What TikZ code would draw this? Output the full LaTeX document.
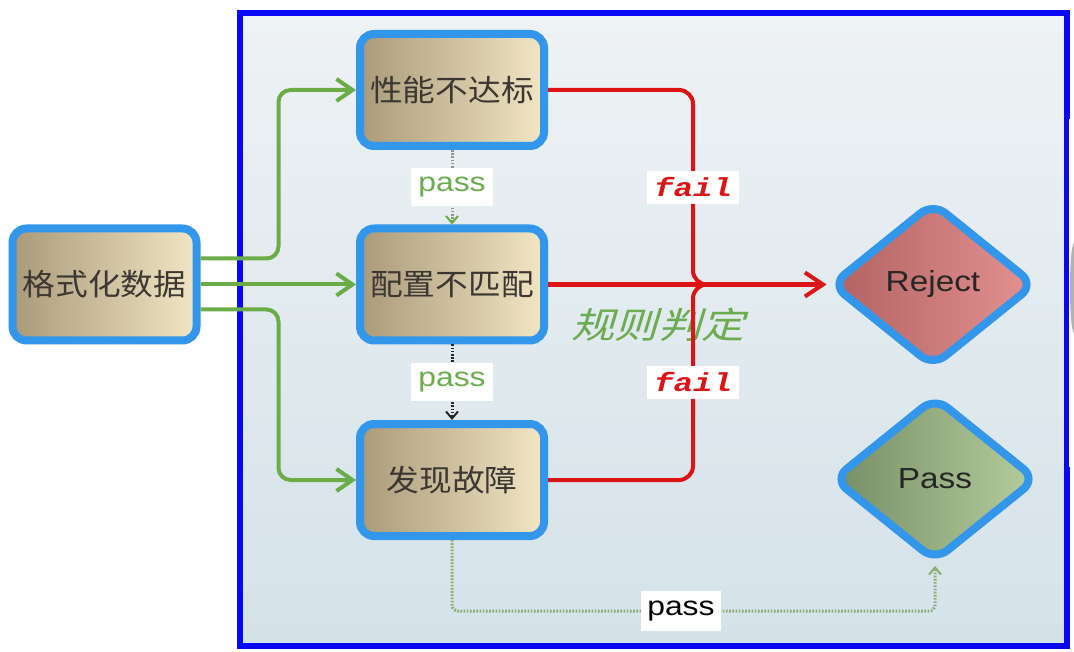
\documentclass[tikz,border=0pt]{standalone}
\usepackage{fontspec}
\usetikzlibrary{arrows.meta,shapes.geometric}
\newfontfamily\cjk[FakeStretch=1.09]{Noto Sans CJK SC}
\newfontfamily\cjkslant[FakeStretch=1.2,FakeSlant=0.3]{Noto Sans CJK SC}
\newfontfamily\latinf[FakeStretch=1.15]{Liberation Sans}
\newfontfamily\passfont[FakeStretch=1.18]{Liberation Sans}
\newfontfamily\failfont[FakeStretch=1.25]{Liberation Mono}
\definecolor{bord}{RGB}{50,150,235}
\definecolor{frameblue}{RGB}{8,8,245}
\definecolor{garrow}{RGB}{106,172,70}
\definecolor{rline}{RGB}{220,20,20}
\definecolor{tanL}{RGB}{170,154,122}
\definecolor{tanR}{RGB}{242,230,196}
\definecolor{rejL}{RGB}{178,98,98}
\definecolor{rejR}{RGB}{228,145,145}
\definecolor{passL}{RGB}{118,142,102}
\definecolor{passR}{RGB}{182,206,156}
\definecolor{bgT}{RGB}{238,242,244}
\definecolor{bgB}{RGB}{212,226,233}
\definecolor{txt}{RGB}{60,55,50}
\definecolor{gtext}{RGB}{108,172,80}
\definecolor{dotgreen}{RGB}{140,172,110}
\definecolor{dotgray}{RGB}{140,150,140}
\begin{document}
\begin{tikzpicture}[x=1pt,y=-1pt,
  box/.style={draw=bord, line width=8pt, rounded corners=14pt, minimum width=184pt,
    minimum height=112pt, inner sep=0pt, left color=tanL, right color=tanR,
    font=\cjk\fontsize{30}{30}\selectfont, text=txt},
  dia/.style={diamond, draw=bord, line width=8pt, rounded corners=16pt,
    minimum width=205pt, minimum height=166pt, inner sep=0pt,
    font=\latinf\fontsize{29}{29}\selectfont, text=black!85},
  garr/.style={draw=garrow, line width=4pt, rounded corners=12pt,
    -{Straight Barb[length=16pt,width=22pt,line width=4pt]}},
  rl/.style={draw=rline, line width=4pt, rounded corners=14pt},
  faillab/.style={sharp corners, fill=white, inner sep=0pt, minimum width=92pt, minimum height=33pt,
    text=rline, font=\failfont\bfseries\itshape\fontsize{26}{26}\selectfont},
  passlab/.style={sharp corners, fill=white, inner sep=0pt, minimum width=82pt, minimum height=38pt,
    font=\passfont\fontsize{27}{27}\selectfont},
  rulelab/.style={text=gtext, font=\cjkslant\fontsize{36}{36}\selectfont, inner sep=0pt},
  dots/.style={line width=3pt, dash pattern=on 1.6pt off 1.6pt}
]
\useasboundingbox (0,0) rectangle (1074,652);
\fill[white] (0,0) rectangle (1074,652);
\shade[top color=bgT,bottom color=bgB] (240,13) rectangle (1067,646);
\draw[frameblue,line width=6pt] (240,13) rectangle (1067,646);
\fill[white] (1068.5,119) rectangle (1074,467);
\fill[black!30] (1074,288) ellipse [x radius=4pt, y radius=45pt];

\node[box] (fmt) at (104.5,284.5) {格式化数据};
\node[box] (perf) at (452,90) {性能不达标};
\node[box] (conf) at (452,284.5) {配置不匹配};
\node[box] (fault) at (452,480) {发现故障};
\node[dia, left color=rejL, right color=rejR] (rej) at (933,284.5) {Reject};
\node[dia, left color=passL, right color=passR] (pass) at (935,479) {Pass};

\node[rulelab] (rule) at (658,325) {规则判定};

% green input arrows
\draw[garr] ([yshift=26pt]fmt.east) -- ++(78,0) |- (perf.west);
\draw[garr] (fmt.east) -- (conf.west);
\draw[garr] ([yshift=-25pt]fmt.east) -- ++(78,0) |- (fault.west);

% red fail lines
\coordinate (jn) at (693,284.5);
\coordinate (jr) at (745,284.5);
\draw[rl] (perf.east) -| node[faillab,pos=0.75]{fail} (jn) -- (jr);
\draw[rl] (fault.east) -| node[faillab,pos=0.75]{fail} (jn) -- (jr);
\draw[rl, line width=4.5pt, rounded corners=0pt, -{Straight Barb[length=18pt,width=24pt,line width=4pt]}] (conf.east) -- (rej.west);

% pass connectors
\draw[dotgray, dots,
  -{Straight Barb[length=7pt,width=12pt,line width=2pt,color=garrow]}]
  (perf.south) -- node[passlab,text=gtext]{pass} (conf.north);
\draw[black!85, dots,
  -{Straight Barb[length=7pt,width=12pt,line width=2pt]}]
  (conf.south) -- node[passlab,text=gtext]{pass} (fault.north);
\draw[dotgreen, dots, rounded corners=6pt,
  -{Straight Barb[length=7pt,width=12pt,line width=2pt]}]
  (fault.south) -- ++(0,71) -| node[passlab,pos=0.237,text=black,minimum width=80pt,minimum height=40pt]{pass} (pass.south);
\end{tikzpicture}
\end{document}
